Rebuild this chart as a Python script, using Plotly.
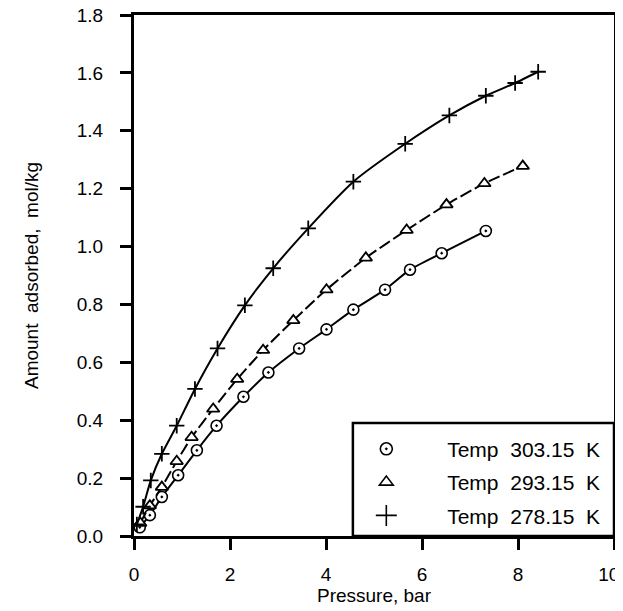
import plotly.graph_objects as go

# 303.15 K (circles)
p303 = [0.12, 0.33, 0.58, 0.92, 1.31, 1.72, 2.28, 2.80, 3.44, 4.01, 4.57, 5.23, 5.75, 6.41, 7.33]
q303 = [0.030, 0.072, 0.135, 0.210, 0.296, 0.381, 0.481, 0.565, 0.648, 0.714, 0.782, 0.851, 0.920, 0.977, 1.054]

# 293.15 K (triangles)
p293 = [0.13, 0.33, 0.58, 0.89, 1.20, 1.65, 2.15, 2.69, 3.32, 4.01, 4.83, 5.68, 6.51, 7.30, 8.10]
q293 = [0.045, 0.105, 0.169, 0.258, 0.341, 0.439, 0.542, 0.642, 0.745, 0.851, 0.961, 1.057, 1.145, 1.218, 1.278]

# 278.15 K (plus)
p278 = [0.06, 0.19, 0.35, 0.58, 0.89, 1.27, 1.74, 2.31, 2.90, 3.63, 4.57, 5.65, 6.57, 7.33, 7.94, 8.42]
q278 = [0.040, 0.101, 0.192, 0.284, 0.381, 0.508, 0.648, 0.797, 0.925, 1.063, 1.224, 1.355, 1.453, 1.521, 1.565, 1.604]

names = ["Temp  303.15  K", "Temp  293.15  K", "Temp  278.15  K"]

x_tickvals = [0, 2, 4, 6, 8, 10]
x_ticktext = ["0", "2", "4", "6", "8", "10\u2007"]

FONT = "Liberation Sans, Arial, Helvetica, sans-serif"
PAD = "\u2007" * 3 + "\u2008"

series = [
    (p303, q303, dict(symbol="circle-dot", size=11, color="white",
                      line=dict(color="black", width=1.6)), None),
    (p293, q293, dict(symbol="triangle-up", size=11, color="white",
                      line=dict(color="black", width=1.8)), "12px,4px"),
    (p278, q278, dict(symbol="cross-thin-open", size=11, color="black",
                      line=dict(color="black", width=1.8)), None),
]
legend_markers = [
    dict(symbol="circle-dot", size=12, color="white", line=dict(color="black", width=1.6)),
    dict(symbol="triangle-up", size=12, color="white", line=dict(color="black", width=1.6)),
    dict(symbol="cross-thin-open", size=15, color="black", line=dict(color="black", width=1.6)),
]

fig = go.Figure()
for (px, py, mk, dash), nm in zip(series, names):
    fig.add_trace(go.Scatter(
        x=px, y=py, mode="lines+markers", name=nm, showlegend=False,
        line=dict(color="black", width=2, shape="spline", smoothing=0.6, dash=dash),
        marker=mk))
for i, (nm, mk) in enumerate(zip(names, legend_markers)):
    fig.add_trace(go.Scatter(
        x=[None], y=[None], mode="markers", name=PAD + nm, marker=mk,
        legendgroup="g%d" % i, showlegend=True))

axis_common = dict(
    showline=True, linecolor="black", linewidth=3, mirror=True,
    ticks="outside", ticklen=11, tickwidth=3, tickcolor="black",
    showgrid=False, zeroline=False, automargin=False,
    ticklabeloverflow="allow",
    tickfont=dict(family=FONT, size=19, color="black"),
)

fig.update_xaxes(range=[0, 10], tickmode="array", tickvals=x_tickvals, ticktext=x_ticktext,
                 ticklabelstandoff=8,
                 title=dict(text="Pressure, bar", font=dict(family=FONT, size=19, color="black"),
                            standoff=3),
                 **axis_common)
fig.update_yaxes(range=[0, 1.8], dtick=0.2, tick0=0, tickformat=".1f", ticklabelstandoff=13,
                 title=dict(text="Amount  adsorbed,  mol/kg",
                            font=dict(family=FONT, size=19, color="black"), standoff=34),
                 **axis_common)

# legend frame
fig.add_shape(type="rect", xref="paper", yref="paper",
              x0=0.456, x1=1.0, y0=0.0, y1=0.217,
              line=dict(color="black", width=2.5), fillcolor="white", layer="below")

# the page body has an 8px margin, so the figure is sized to fill the rest of the window
fig.update_layout(
    width=615, height=603,
    margin=dict(l=126, r=9, t=7, b=75),
    paper_bgcolor="white", plot_bgcolor="white",
    font=dict(family=FONT, size=18, color="black"),
    showlegend=True,
    legend=dict(x=0.484, y=0.206, xanchor="left", yanchor="top",
                bgcolor="rgba(0,0,0,0)", borderwidth=0,
                font=dict(family=FONT, size=21, color="black"),
                itemwidth=30, tracegroupgap=3),
)

fig.write_html("out.html")
